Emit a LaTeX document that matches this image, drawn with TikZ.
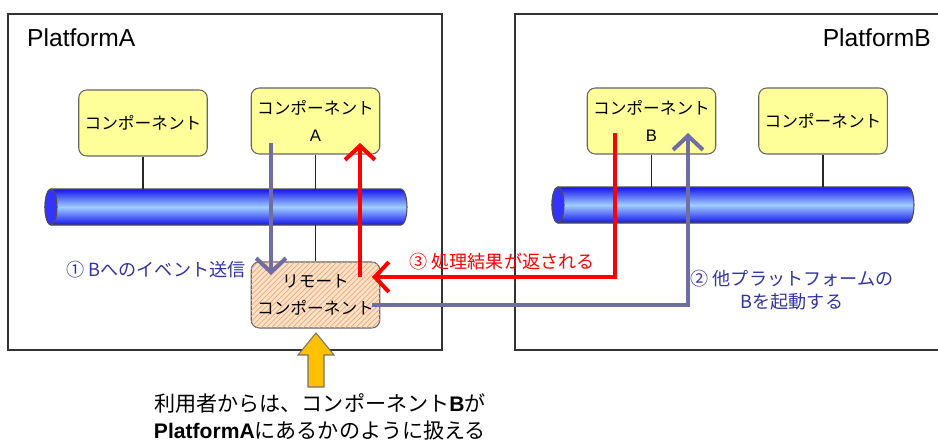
\documentclass[tikz,border=0pt]{standalone}
\usepackage{fontspec}
\setmainfont{Liberation Sans}
\newfontfamily\jp{Noto Sans CJK JP}
\usepackage{tikz}
\usetikzlibrary{patterns,arrows.meta}

\definecolor{compyellow}{RGB}{255,255,153}
\definecolor{slate}{RGB}{110,110,165}
\definecolor{labelblue}{RGB}{51,51,160}
\definecolor{busedge}{RGB}{20,20,235}
\definecolor{busmid}{RGB}{160,205,255}
\definecolor{remotefill}{RGB}{253,225,200}
\definecolor{remoteline}{RGB}{240,170,120}
\definecolor{blockarrow}{RGB}{255,192,0}

\tikzset{
  frame/.style={draw=black!80, line width=0.8pt},
  comp/.style={draw=black!60, fill=compyellow, rounded corners=0.16cm,
    minimum width=2.56cm, minimum height=1.32cm, align=center,
    font=\fontsize{9.5}{15}\selectfont, line width=0.6pt},
  remote/.style={comp, fill=remotefill,
    postaction={pattern=north east lines, pattern color=remoteline}},
  link/.style={draw=black!85, line width=0.8pt},
  bus/.style={draw=black!70, line width=0.6pt, top color=busedge,
    bottom color=busedge, middle color=busmid},
  slatearrow/.style={draw=slate, line width=2.3pt,
    -{Straight Barb[length=8pt,width=17pt,line width=2.3pt]}},
  redarrow/.style={draw=red, line width=2.3pt,
    -{Straight Barb[length=8pt,width=17pt,line width=2.3pt]}},
  steplabel/.style={font=\jp\fontsize{10.3}{13}\selectfont, align=center}
}

\begin{document}
\begin{tikzpicture}[x=0.02cm,y=0.02cm]
\useasboundingbox (0,0) rectangle (938,441);
% Platforms
\draw[frame] (8,91) rectangle (442,427);
\draw[frame] (515,91) rectangle (945,427);
\node[anchor=west, font=\fontsize{14}{16}\selectfont] (platA) at (21,403) {PlatformA};
\node[anchor=east, font=\fontsize{14}{16}\selectfont] (platB) at (937,403) {PlatformB};
% Buses
\draw[bus] (51,252) -- (401,252) arc(90:-90:6 and 18) -- (51,216) arc(270:90:6 and 18) -- cycle;
\draw[draw=black!70, line width=0.6pt, fill=blue!80] (51,234) ellipse (6 and 18);
\draw[bus] (558,254) -- (908,254) arc(90:-90:6 and 18) -- (558,218) arc(270:90:6 and 18) -- cycle;
\draw[draw=black!70, line width=0.6pt, fill=blue!80] (558,236) ellipse (6 and 18);
% Components
\node[comp] (compA1) at (143,318) {\jp コンポーネント};
\node[comp] (compA) at (315.5,320) {{\jp コンポーネント}\\A};
\node[comp] (compB) at (651.5,320) {{\jp コンポーネント}\\B};
\node[comp] (compB2) at (823,320) {\jp コンポーネント};
\node[remote] (remote) at (315.5,146) {\jp リモート\\\jp コンポーネント};
% Links to buses
\draw[link] (compA1.south) -- (143,252);
\draw[link] (compA.south) -- (315.5,252);
\draw[link] (315.5,216) -- (remote.north);
\draw[link] (compB.south) -- (651.5,254);
\draw[link] (compB2.south) -- (823,254);
% Flow
\coordinate (redcorner) at (615,164);
\coordinate (slatecorner) at (688,136);
\draw[slatearrow] (271,298) -- (271,166);
\draw[redarrow] (615,308) -- (redcorner) -- (372,164);
\draw[redarrow] (360,164) -- (360,298);
\draw[slatearrow] (372,136) -- (slatecorner) -- (688,308);
% Labels
\node[steplabel, text=labelblue] (step1) at (156,171) {① Bへのイベント送信};
\node[steplabel, text=red] (step3) at (502,179) {③ 処理結果が返される};
\node[steplabel, text=labelblue] (step2) at (792,151) {② 他プラットフォームの\\Bを起動する};
% User view
\draw[draw=black!55, fill=blockarrow, line width=0.6pt] (316,108) -- (334,86) -- (324,86) -- (324,54)
  -- (308,54) -- (308,86) -- (298,86) -- cycle;
\node[align=center, font=\fontsize{12}{15}\selectfont] (userview) at (320,24)
  {{\jp 利用者からは、コンポーネント}\textbf{B}{\jp が}\\\textbf{PlatformA}{\jp にあるかのように扱える}};
\end{tikzpicture}
\end{document}
